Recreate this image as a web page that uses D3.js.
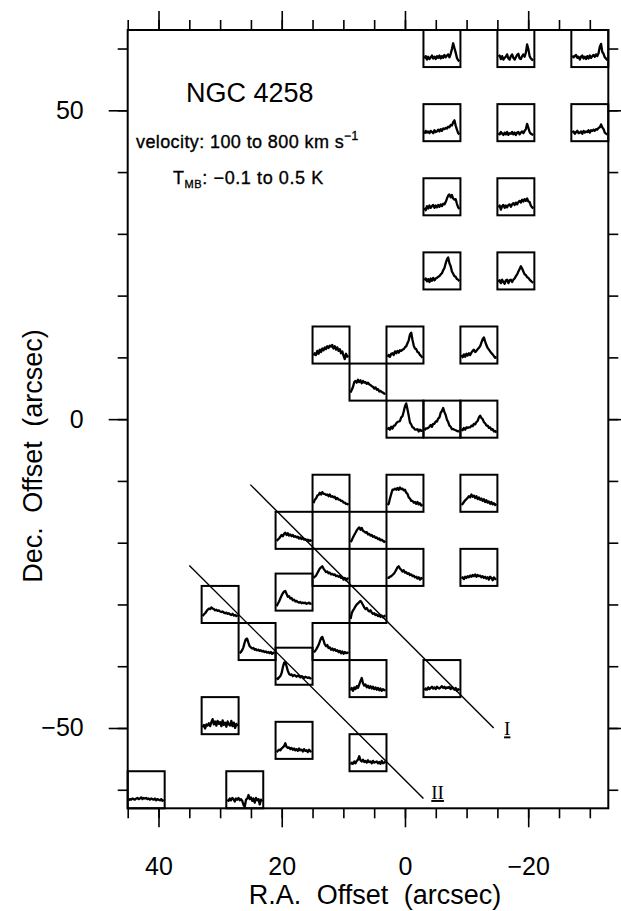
<!DOCTYPE html>
<html><head><meta charset="utf-8">
<script src="https://cdn.jsdelivr.net/npm/d3@7"></script>
<style>
body{margin:0;background:#fff}
svg{display:block}
text{font-family:"Liberation Sans",Arial,Helvetica,sans-serif;fill:#000}
</style>
</head><body>
<svg id="c" width="621" height="911"></svg>
<script>
// ---- data ----
const raOffsets  = [-6,-18,-30,-6,-18,-30,-6,-18,-6,-18,12,0,-12,6,0,-6,-12,12,0,-12,18,6,12,0,-12,18,30,6,24,12,18,6,-6,30,18,6,42,26];
const decOffsets = [60,60,60,48,48,48,36,36,24,24,12,12,12,6,0,0,0,-12,-12,-12,-18,-18,-24,-24,-24,-28,-30,-30,-36,-36,-40,-42,-42,-48,-52,-54,-60,-60];
const velocities = [100,125,150,175,200,225,250,275,300,325,350,375,400,425,450,475,500,525,550,575,600,625,650,675,700,725,750,775,800];
const spectra = [
 [0.03,0.07,0.01,0.06,0.02,0.05,0.08,0.03,0.06,0.02,0.07,0.04,0.08,0.03,0.07,0.04,0.09,0.05,0.08,0.10,0.05,0.11,0.19,0.29,0.21,0.13,0.04,0.0,-0.02],
 [0.06,0.08,0.02,0.07,0.01,0.04,0.06,0.10,0.03,0.01,0.07,0.10,0.04,0.01,0.05,0.09,0.11,0.03,0.02,0.07,0.10,0.06,0.13,0.27,0.19,0.07,0.03,0.01,0.0],
 [0.08,0.05,0.07,0.09,0.04,0.06,0.01,0.06,0.08,0.03,0.06,0.02,0.07,0.03,0.08,0.04,0.07,0.09,0.06,0.10,0.07,0.12,0.23,0.28,0.14,0.11,0.05,0.03,0.0],
 [0.01,0.06,0.03,0.05,0.02,0.06,0.04,0.02,0.07,0.04,0.05,0.08,0.05,0.09,0.06,0.10,0.09,0.11,0.10,0.13,0.12,0.16,0.15,0.21,0.24,0.15,0.08,0.02,0.0],
 [0.02,0.0,0.04,0.01,-0.01,0.03,0.0,0.04,-0.01,0.02,0.01,0.04,0.0,0.03,-0.01,0.03,0.04,0.0,0.03,0.05,0.02,0.06,0.09,0.18,0.11,0.04,0.01,0.0,-0.01],
 [0.03,0.05,0.01,0.04,0.06,0.02,0.03,0.05,0.01,0.06,0.03,0.05,0.04,0.07,0.03,0.07,0.06,0.08,0.06,0.09,0.08,0.11,0.12,0.17,0.12,0.09,0.03,0.01,0.0],
 [0.01,-0.03,0.04,0.0,0.05,0.01,0.04,0.06,0.01,0.05,0.02,0.06,0.03,0.07,0.04,0.08,0.07,0.11,0.17,0.22,0.24,0.19,0.23,0.17,0.15,0.16,0.08,0.02,-0.01],
 [0.02,0.05,-0.02,0.04,0.06,0.01,0.05,0.02,0.06,0.07,0.03,0.07,0.09,0.06,0.10,0.07,0.11,0.13,0.10,0.15,0.12,0.16,0.13,0.17,0.12,0.11,0.05,0.02,0.0],
 [0.04,0.07,0.02,0.06,0.01,0.07,0.03,0.08,0.04,0.07,0.08,0.10,0.11,0.14,0.16,0.21,0.25,0.33,0.40,0.43,0.33,0.28,0.19,0.15,0.11,0.10,0.06,0.05,0.02],
 [0.01,0.04,-0.01,0.05,0.01,-0.02,0.04,0.05,-0.01,0.04,0.05,0.01,0.05,0.07,0.11,0.14,0.19,0.23,0.28,0.24,0.19,0.14,0.13,0.09,0.08,0.05,0.03,0.01,0.0],
 [0.02,0.06,0.03,0.10,0.05,0.12,0.08,0.14,0.11,0.16,0.13,0.18,0.15,0.19,0.17,0.20,0.14,0.18,0.12,0.16,0.10,0.13,0.06,0.09,0.02,-0.04,0.05,0.0,0.02],
 [0.0,0.03,0.0,0.05,0.06,0.03,0.09,0.06,0.10,0.07,0.11,0.10,0.12,0.13,0.16,0.18,0.23,0.28,0.38,0.41,0.29,0.19,0.14,0.13,0.08,0.07,0.03,0.01,-0.02],
 [0.03,-0.01,0.04,0.0,0.05,0.02,0.06,0.03,0.07,0.10,0.12,0.08,0.10,0.13,0.15,0.18,0.24,0.30,0.33,0.26,0.20,0.15,0.12,0.09,0.06,0.04,0.01,-0.02,0.0],
 [0.02,0.07,0.12,0.20,0.22,0.19,0.24,0.20,0.23,0.18,0.22,0.19,0.20,0.17,0.19,0.16,0.15,0.13,0.12,0.09,0.11,0.07,0.08,0.04,0.05,0.03,0.02,0.0,0.01],
 [0.02,0.05,0.02,0.07,0.04,0.09,0.09,0.13,0.15,0.16,0.17,0.23,0.25,0.33,0.42,0.47,0.37,0.26,0.14,0.11,0.06,0.05,0.02,0.02,0.03,-0.01,0.02,0.0,0.01],
 [0.01,0.04,0.04,0.05,0.07,0.10,0.07,0.12,0.12,0.16,0.16,0.21,0.23,0.31,0.34,0.39,0.32,0.27,0.19,0.15,0.09,0.07,0.03,0.03,0.02,0.01,0.0,-0.01,0.0],
 [0.03,0.01,0.05,0.02,0.06,0.05,0.06,0.06,0.09,0.08,0.12,0.11,0.15,0.17,0.23,0.26,0.22,0.20,0.15,0.13,0.09,0.09,0.05,0.06,0.02,0.03,-0.01,0.0,-0.03],
 [0.03,0.09,0.11,0.16,0.17,0.21,0.18,0.22,0.19,0.19,0.17,0.18,0.15,0.18,0.14,0.15,0.13,0.14,0.10,0.12,0.09,0.09,0.07,0.07,0.04,0.04,0.02,0.02,0.0],
 [0.0,0.02,0.11,0.19,0.26,0.26,0.28,0.26,0.29,0.26,0.30,0.27,0.28,0.25,0.26,0.21,0.19,0.13,0.11,0.07,0.07,0.04,0.05,0.02,0.05,0.01,0.03,-0.01,0.01],
 [0.0,0.02,0.05,0.08,0.10,0.12,0.15,0.13,0.18,0.14,0.16,0.12,0.15,0.10,0.13,0.09,0.11,0.07,0.10,0.05,0.08,0.04,0.06,0.02,0.05,0.01,0.03,0.0,0.02],
 [0.02,0.04,0.06,0.09,0.12,0.10,0.14,0.16,0.12,0.15,0.11,0.13,0.10,0.12,0.09,0.10,0.08,0.09,0.06,0.08,0.05,0.07,0.04,0.05,0.03,0.04,0.02,0.03,0.01],
 [0.0,0.03,0.08,0.12,0.16,0.20,0.23,0.25,0.21,0.24,0.19,0.18,0.16,0.17,0.13,0.14,0.11,0.12,0.09,0.10,0.07,0.08,0.05,0.06,0.03,0.04,0.02,0.0,0.02],
 [0.02,0.04,0.06,0.10,0.14,0.18,0.20,0.22,0.18,0.15,0.12,0.13,0.10,0.11,0.08,0.09,0.07,0.08,0.05,0.06,0.04,0.05,0.02,0.03,-0.01,0.02,-0.02,0.01,0.0],
 [0.03,0.02,0.04,0.05,0.07,0.09,0.12,0.16,0.20,0.22,0.18,0.16,0.13,0.15,0.11,0.12,0.09,0.10,0.07,0.08,0.05,0.06,0.03,0.04,0.01,0.03,-0.01,0.02,0.0],
 [0.01,0.03,0.0,0.04,0.02,0.05,0.03,0.06,0.04,0.07,0.05,0.08,0.04,0.07,0.05,0.06,0.03,0.05,0.02,0.04,0.01,0.03,-0.01,0.04,0.02,-0.02,0.03,0.0,0.01],
 [-0.04,0.0,0.04,0.09,0.14,0.18,0.21,0.22,0.17,0.12,0.13,0.09,0.10,0.06,0.07,0.04,0.05,0.03,0.02,0.03,0.01,0.02,0.01,0.02,0.0,0.01,0.02,0.0,0.01],
 [0.0,0.03,0.05,0.08,0.11,0.13,0.12,0.15,0.13,0.12,0.10,0.11,0.09,0.10,0.08,0.07,0.08,0.06,0.05,0.06,0.04,0.05,0.03,0.02,0.04,0.01,0.02,0.0,0.02],
 [-0.05,0.05,0.10,0.13,0.17,0.20,0.22,0.24,0.26,0.23,0.19,0.15,0.12,0.14,0.10,0.08,0.10,0.06,0.04,0.05,0.02,0.03,0.0,0.02,-0.01,0.01,-0.02,0.0,0.01],
 [0.0,0.02,0.05,0.10,0.18,0.24,0.25,0.18,0.12,0.10,0.08,0.09,0.06,0.07,0.05,0.06,0.04,0.05,0.03,0.04,0.02,0.03,0.01,0.02,0.0,0.02,-0.01,0.01,0.0],
 [0.02,0.03,0.06,0.10,0.14,0.20,0.26,0.28,0.22,0.15,0.12,0.14,0.09,0.10,0.06,0.08,0.05,0.07,0.04,0.05,0.02,0.04,0.0,0.03,-0.01,0.02,0.0,0.01,0.0],
 [0.0,-0.02,0.01,0.03,0.08,0.18,0.26,0.27,0.20,0.12,0.07,0.05,0.06,0.03,0.05,0.04,0.02,0.04,0.03,0.01,0.03,0.02,0.0,0.02,0.01,0.0,0.01,-0.01,0.0],
 [0.0,0.04,-0.01,0.05,0.02,0.07,0.04,0.10,0.16,0.21,0.12,0.08,0.10,0.05,0.08,0.04,0.07,0.03,0.06,0.02,0.05,0.01,0.04,0.0,0.03,-0.01,0.02,0.0,0.01],
 [0.0,0.03,0.01,0.05,0.02,0.04,0.06,0.03,0.05,0.02,0.06,0.04,0.03,0.05,0.07,0.04,0.06,0.03,0.05,0.04,0.06,0.02,0.05,0.03,0.01,0.04,-0.01,0.02,0.0],
 [0.0,0.04,-0.02,0.05,0.03,0.07,0.02,0.09,0.14,0.05,0.10,0.03,0.11,0.06,0.09,0.02,0.12,0.04,0.08,0.01,0.10,0.05,0.03,0.11,0.02,0.08,-0.01,0.06,0.02],
 [0.0,0.02,0.04,0.03,0.06,0.08,0.10,0.15,0.09,0.07,0.08,0.05,0.07,0.04,0.06,0.03,0.05,0.02,0.06,0.03,0.04,0.01,0.05,0.02,0.03,0.0,0.04,0.01,0.02],
 [0.0,0.03,0.01,0.05,0.02,0.06,0.08,0.14,0.07,0.05,0.08,0.04,0.06,0.03,0.07,0.04,0.05,0.02,0.06,0.03,0.04,0.05,0.02,0.04,0.01,0.06,0.02,0.03,0.05],
 [0.02,0.04,0.03,0.05,0.04,0.03,0.05,0.06,0.04,0.05,0.07,0.04,0.06,0.05,0.06,0.04,0.05,0.03,0.05,0.04,0.03,0.05,0.02,0.04,0.03,0.02,0.04,0.01,0.03],
 [0.03,0.01,0.05,0.02,0.06,0.04,0.0,0.05,0.03,0.06,0.02,0.04,0.01,-0.06,-0.09,0.03,0.05,0.11,0.04,0.07,0.01,0.05,-0.02,0.06,0.02,0.04,-0.05,0.03,0.0]
];
const xTicksMinor = [45,40,35,30,25,20,15,10,5,0,-5,-10,-15,-20,-25,-30];
const xTicksMajor = [40,20,0,-20];
const yTicksMinor = [60,50,40,30,20,10,0,-10,-20,-30,-40,-50,-60];
const yTicksMajor = [50,0,-50];
const stripLines = [
  {label:"I",  from:[25.1,-10.6], to:[-14.4,-50.0], labelAt:[-16.6,-51.2]},
  {label:"II", from:[35.0,-23.7], to:[-3.0,-61.4],  labelAt:[-5.3,-61.5]}
];
const boxHalf = 3;           // arcsec half-size of each spectrum box
const velRange = [100, 800]; // km/s
const tRange = [-0.1, 0.5];  // K

// ---- drawing ----
const svg = d3.select("#c");
const x = d3.scaleLinear().domain([45,-33]).range([127.7,608.3]);
const y = d3.scaleLinear().domain([63,-63]).range([30,808.3]);
const fmt = d => d < 0 ? "\u2212" + Math.abs(d) : String(d);

function styleAxis(g){
  g.select(".domain").remove();
  g.selectAll(".tick line").attr("stroke","#000").attr("stroke-width",1.6);
  g.selectAll(".tick text").attr("font-size",25).attr("fill","#000")
    .attr("font-family",'"Liberation Sans",Arial,sans-serif');
}
const X0 = x.range()[0], X1 = x.range()[1], Y0 = y.range()[0], Y1 = y.range()[1];
// bottom
svg.append("g").attr("transform",`translate(0,${Y1})`)
  .call(d3.axisBottom(x).tickValues(xTicksMinor).tickSize(10).tickFormat("")).call(styleAxis);
svg.append("g").attr("transform",`translate(0,${Y1})`)
  .call(d3.axisBottom(x).tickValues(xTicksMajor).tickSize(19).tickPadding(30).tickFormat(fmt)).call(styleAxis);
// top
svg.append("g").attr("transform",`translate(0,${Y0})`)
  .call(d3.axisTop(x).tickValues(xTicksMinor).tickSize(10).tickFormat("")).call(styleAxis);
svg.append("g").attr("transform",`translate(0,${Y0})`)
  .call(d3.axisTop(x).tickValues(xTicksMajor).tickSize(19).tickFormat("")).call(styleAxis);
// left
svg.append("g").attr("transform",`translate(${X0},0)`)
  .call(d3.axisLeft(y).tickValues(yTicksMinor).tickSize(10).tickFormat("")).call(styleAxis);
svg.append("g").attr("transform",`translate(${X0},0)`)
  .call(d3.axisLeft(y).tickValues(yTicksMajor).tickSize(19).tickPadding(25).tickFormat(fmt)).call(styleAxis);
// right
svg.append("g").attr("transform",`translate(${X1},0)`)
  .call(d3.axisRight(y).tickValues(yTicksMinor).tickSize(10).tickFormat("")).call(styleAxis);
svg.append("g").attr("transform",`translate(${X1},0)`)
  .call(d3.axisRight(y).tickValues(yTicksMajor).tickSize(19).tickFormat("")).call(styleAxis);

// frame
svg.append("rect").attr("x",X0).attr("y",Y0).attr("width",X1-X0).attr("height",Y1-Y0)
  .attr("fill","none").attr("stroke","#000").attr("stroke-width",2);

// strip lines
stripLines.forEach(s=>{
  svg.append("line").attr("x1",x(s.from[0])).attr("y1",y(s.from[1]))
    .attr("x2",x(s.to[0])).attr("y2",y(s.to[1]))
    .attr("stroke","#000").attr("stroke-width",1.4);
  svg.append("text").attr("x",x(s.labelAt[0])).attr("y",y(s.labelAt[1]))
    .attr("text-anchor","middle").attr("font-size",19)
    .style("font-family",'"Liberation Serif","Times New Roman",serif')
    .style("text-decoration","underline")
    .text(s.label);
});

// spectrum boxes
const boxes = svg.append("g");
raOffsets.forEach((ra,i)=>{
  const dec = decOffsets[i];
  const bx0 = x(ra+boxHalf), bx1 = x(ra-boxHalf);
  const by0 = y(dec+boxHalf), by1 = y(dec-boxHalf);
  const g = boxes.append("g");
  g.append("rect").attr("x",bx0).attr("y",by0).attr("width",bx1-bx0).attr("height",by1-by0)
    .attr("fill","none").attr("stroke","#000").attr("stroke-width",2);
  const sx = d3.scaleLinear().domain(velRange).range([bx0+1,bx1-1]);
  const sy = d3.scaleLinear().domain(tRange).range([by1-1,by0+1]).clamp(true);
  const line = d3.line().x((d,j)=>sx(velocities[j])).y(d=>sy(d));
  g.append("path").attr("d",line(spectra[i])).attr("fill","none")
    .attr("stroke","#000").attr("stroke-width",2.3).attr("stroke-linejoin","round");
});

// annotations
svg.append("text").attr("x",186).attr("y",102).attr("font-size",27).text("NGC 4258");
const t1 = svg.append("text").attr("x",136).attr("y",148).attr("font-size",18)
  .style("letter-spacing","0.4px").attr("stroke","#000").attr("stroke-width",0.35);
t1.append("tspan").text("velocity: 100 to 800 km s");
t1.append("tspan").attr("font-size",12).attr("dy",-8).text("\u22121");
const t2 = svg.append("text").attr("x",173).attr("y",184).attr("font-size",18)
  .style("letter-spacing","0.6px").attr("stroke","#000").attr("stroke-width",0.35);
t2.append("tspan").text("T");
t2.append("tspan").attr("font-size",11).attr("dy",4).text("MB");
t2.append("tspan").attr("dy",-4).text(": \u22120.1 to 0.5 K");

// axis titles
svg.append("text").attr("x",375).attr("y",904).attr("text-anchor","middle")
  .attr("font-size",27).style("word-spacing","8px").text("R.A. Offset (arcsec)");
svg.append("text").attr("transform","translate(41.5,456) rotate(-90)").attr("text-anchor","middle")
  .attr("font-size",27).style("word-spacing","7px").text("Dec. Offset (arcsec)");
</script>
</body></html>
